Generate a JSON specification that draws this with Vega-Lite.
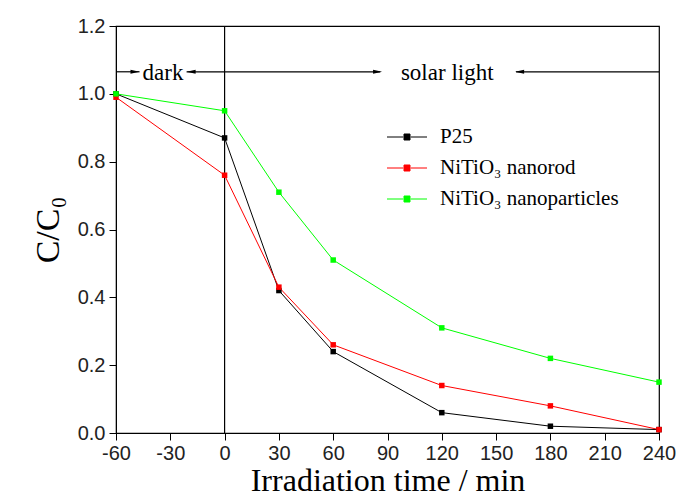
{
  "$schema": "https://vega.github.io/schema/vega-lite/v6.json",
  "width": 543,
  "height": 407,
  "autosize": "none",
  "padding": {"left": 116, "top": 26, "right": 21, "bottom": 67},
  "background": "white",
  "config": {
    "view": {"stroke": "black", "strokeWidth": 1.2},
    "axis": {
      "domainColor": "black",
      "tickColor": "black",
      "labelColor": "#222",
      "labelFont": "Liberation Sans",
      "labelFontSize": 20,
      "titleFont": "Liberation Serif",
      "titleFontSize": 32,
      "titleFontWeight": "normal",
      "titleColor": "black",
      "grid": false
    }
  },
  "datasets": {
    "series": [
      {"t": -60, "c": 1.0, "s": "P25"},
      {"t": 0, "c": 0.87, "s": "P25"},
      {"t": 30, "c": 0.42, "s": "P25"},
      {"t": 60, "c": 0.24, "s": "P25"},
      {"t": 120, "c": 0.06, "s": "P25"},
      {"t": 180, "c": 0.02, "s": "P25"},
      {"t": 240, "c": 0.01, "s": "P25"},
      {"t": -60, "c": 0.99, "s": "NiTiO₃ nanorod"},
      {"t": 0, "c": 0.76, "s": "NiTiO₃ nanorod"},
      {"t": 30, "c": 0.43, "s": "NiTiO₃ nanorod"},
      {"t": 60, "c": 0.26, "s": "NiTiO₃ nanorod"},
      {"t": 120, "c": 0.14, "s": "NiTiO₃ nanorod"},
      {"t": 180, "c": 0.08, "s": "NiTiO₃ nanorod"},
      {"t": 240, "c": 0.01, "s": "NiTiO₃ nanorod"},
      {"t": -60, "c": 1.0, "s": "NiTiO₃ nanoparticles"},
      {"t": 0, "c": 0.95, "s": "NiTiO₃ nanoparticles"},
      {"t": 30, "c": 0.71, "s": "NiTiO₃ nanoparticles"},
      {"t": 60, "c": 0.51, "s": "NiTiO₃ nanoparticles"},
      {"t": 120, "c": 0.31, "s": "NiTiO₃ nanoparticles"},
      {"t": 180, "c": 0.22, "s": "NiTiO₃ nanoparticles"},
      {"t": 240, "c": 0.15, "s": "NiTiO₃ nanoparticles"}
    ]
  },
  "layer": [
    {
      "data": {"values": [{"t": 0}]},
      "mark": {"type": "rule", "color": "black", "strokeWidth": 1.2},
      "encoding": {
        "x": {
          "field": "t", "type": "quantitative",
          "scale": {"domain": [-60, 240], "nice": false, "zero": false},
          "axis": {
            "title": "Irradiation time / min",
            "values": [-60, -45, -30, -15, 0, 15, 30, 45, 60, 75, 90, 105, 120, 135, 150, 165, 180, 195, 210, 225, 240],
            "labelExpr": "datum.value % 30 === 0 ? '' + datum.value : ''",
            "labelOverlap": false,
            "labelFlush": false,
            "tickSize": {"condition": {"test": "datum.value % 30 === 0", "value": 7}, "value": 4},
            "labelPadding": 3,
            "titlePadding": 2
          }
        }
      }
    },
    {
      "data": {"values": [{"a": -60, "b": -47}, {"a": -21, "b": 86}, {"a": 161, "b": 240}]},
      "mark": {"type": "rule", "color": "black", "strokeWidth": 1.2},
      "encoding": {
        "x": {"field": "a", "type": "quantitative"},
        "x2": {"field": "b"},
        "y": {"datum": 1.065, "type": "quantitative"}
      }
    },
    {
      "data": {"values": [{"x": -49.5}, {"x": 84.5}]},
      "mark": {"type": "point", "shape": "M-1,-0.45L1,0L-1,0.45Z", "filled": true, "color": "black", "size": 81, "opacity": 1},
      "encoding": {
        "x": {"field": "x", "type": "quantitative"},
        "y": {"datum": 1.065, "type": "quantitative"}
      }
    },
    {
      "data": {"values": [{"x": -18.5}, {"x": 163}]},
      "mark": {"type": "point", "shape": "M1,-0.45L-1,0L1,0.45Z", "filled": true, "color": "black", "size": 81, "opacity": 1},
      "encoding": {
        "x": {"field": "x", "type": "quantitative"},
        "y": {"datum": 1.065, "type": "quantitative"}
      }
    },
    {
      "data": {"values": [{"x": -34, "label": "dark"}, {"x": 123, "label": "solar light"}]},
      "mark": {"type": "text", "font": "Liberation Serif", "fontSize": 23, "color": "black", "baseline": "middle", "align": "center", "dy": 1},
      "encoding": {
        "x": {"field": "x", "type": "quantitative"},
        "y": {"datum": 1.065, "type": "quantitative"},
        "text": {"field": "label"}
      }
    },
    {
      "data": {"name": "series"},
      "mark": {"type": "line", "strokeWidth": 1},
      "encoding": {
        "x": {"field": "t", "type": "quantitative"},
        "y": {
          "field": "c", "type": "quantitative",
          "scale": {"domain": [0, 1.2], "nice": false},
          "axis": {
            "title": "C/C₀",
            "values": [0, 0.1, 0.2, 0.3, 0.4, 0.5, 0.6, 0.7, 0.8, 0.9, 1.0, 1.1, 1.2],
            "format": ".1f",
            "labelExpr": "round(datum.value * 10) % 2 === 0 ? datum.label : ''",
            "labelOverlap": false,
            "labelFlush": false,
            "tickSize": {"condition": {"test": "round(datum.value * 10) % 2 === 0", "value": 7}, "value": 4},
            "labelPadding": 4,
            "titlePadding": 12,
            "titleFontSize": 34
          }
        },
        "color": {
          "field": "s", "type": "nominal",
          "scale": {"domain": ["P25", "NiTiO₃ nanorod", "NiTiO₃ nanoparticles"], "range": ["#000000", "#ff0000", "#00ff00"]},
          "legend": {
            "title": null,
            "orient": "none",
            "legendX": 278,
            "legendY": 98,
            "padding": 0,
            "symbolType": "M-1.6,0H-0.3M0.3,0H1.6M-0.24,-0.24H0.24V0.24H-0.24Z",
            "symbolSize": 625,
            "symbolStrokeWidth": 1,
            "labelFont": "Liberation Serif",
            "labelFontSize": 21,
            "labelColor": "black",
            "labelOffset": 20,
            "labelLimit": 400,
            "rowPadding": 8,
            "encode": {
              "symbols": {"update": {"fill": {"scale": "color", "field": "value"}, "stroke": {"scale": "color", "field": "value"}, "fillOpacity": {"value": 1}, "opacity": {"value": 1}}}
            }
          }
        }
      }
    },
    {
      "data": {"name": "series"},
      "mark": {"type": "square", "size": 30, "filled": true, "opacity": 1},
      "encoding": {
        "x": {"field": "t", "type": "quantitative"},
        "y": {"field": "c", "type": "quantitative"},
        "color": {"field": "s", "type": "nominal"}
      }
    }
  ]
}
